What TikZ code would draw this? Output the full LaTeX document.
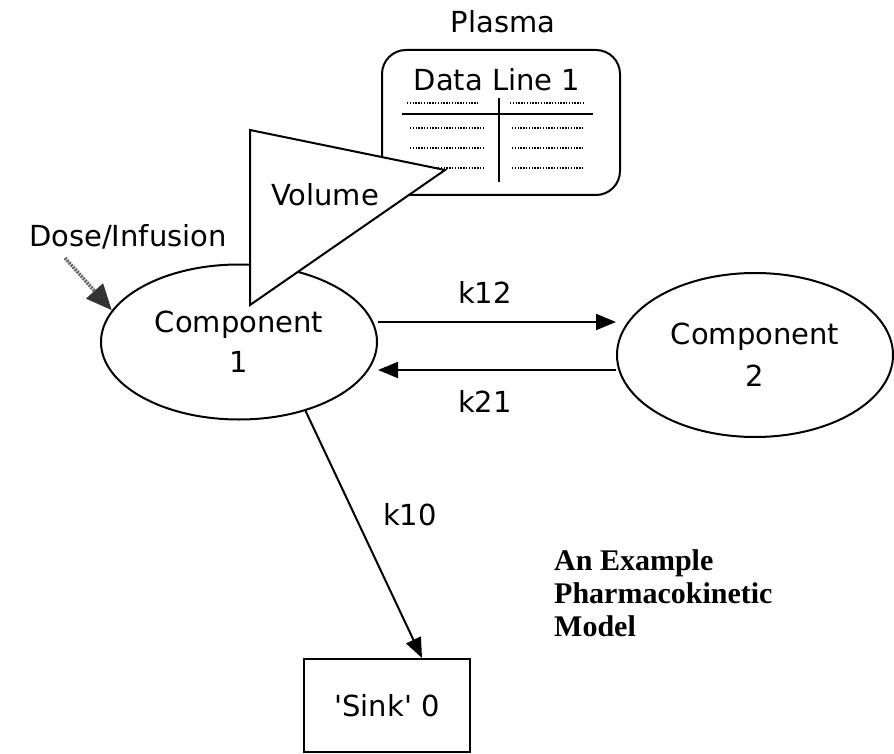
\documentclass[tikz,border=0pt]{standalone}
\usepackage{fontspec}
\setmainfont{DejaVu Sans}
\newfontfamily\gen{DejaVu Sans}
\newfontfamily\titlefont{Liberation Serif}
\usetikzlibrary{shapes.geometric,arrows.meta}
\tikzset{
  lbl/.style={font=\gen\fontsize{29}{40}\selectfont, inner sep=0pt},
  comp/.style={ellipse, draw, line width=2pt, fill=white, align=center, font=\gen\fontsize{29}{42}\selectfont, inner sep=0pt},
  arr/.style={line width=2pt, -{Triangle[length=20pt,width=16pt]}},
  dots/.style={line width=1.4pt, dash pattern=on 1.4pt off 1.4pt},
}
\begin{document}
\begin{tikzpicture}[x=1pt,y=-1pt]
\useasboundingbox (0,0) rectangle (894,754);
% data box
\node[draw, line width=2pt, rounded corners=24pt, minimum width=238pt, minimum height=145pt] (data) at (501,122.5) {};
\node[lbl] (plasma) at (503,22) {Plasma};
\node[lbl] (dl) at (497,80) {Data Line 1};
\draw[line width=2pt] (402,114) -- (593,114);
\draw[line width=2pt] (499,98) -- (499,182);
\foreach \yy in {128,148,168} {
  \draw[dots] (410,\yy) -- (483,\yy);
  \draw[dots] (512,\yy) -- (583,\yy);
}
\draw[dots] (407,103) -- (478,103);
\draw[dots] (510,103) -- (583,103);
% component 1
\node[comp, minimum width=276pt, minimum height=155pt] (c1) at (239,342) {};
% volume triangle
\coordinate (t1) at (250,130);
\coordinate (t2) at (445,170);
\coordinate (t3) at (250,305);
\draw[line width=2pt, fill=white] (t1) -- (t2) -- (t3) -- cycle;
\node[lbl] (vol) at (325,195) {Volume};
\node[lbl, align=center] (c1text) at (c1) {Component\\1};
% component 2
\node[comp, minimum width=276pt, minimum height=164pt] (c2) at (755,355) {Component\\2};
% sink
\node[draw, line width=2pt, minimum width=166pt, minimum height=93pt, inner sep=0pt, font=\gen\fontsize{29}{40}\selectfont] (sink) at (387,705.5) {'Sink' 0};
% connectors
\draw[arr] ([yshift=20pt]c1.east) -- ([yshift=20pt]c1.east -| c2.west);
\draw[arr] ([yshift=-15pt]c2.west) -- ([yshift=-15pt]c2.west -| c1.east);
\draw[arr] (c1.-46) -- ([xshift=35pt]sink.north);
\node[lbl] (k12) at (485,292) {k12};
\node[lbl] (k21) at (485,401) {k21};
\node[lbl] (k10) at (410,515) {k10};
% dose
\node[lbl] (dose) at (128,237) {Dose/Infusion};
\coordinate (dstart) at (65,258);
\draw[line width=3.5pt, black!60, dash pattern=on 2pt off 1pt, -{Triangle[length=26pt,width=22pt,fill=black!80,color=black!80]}] (dstart) -- (c1.166);
% title
\node[font=\titlefont\bfseries\fontsize{30}{33}\selectfont, align=left, anchor=north west, inner sep=0pt] (title) at (554,549) {An Example\\Pharmacokinetic\\Model};
\end{tikzpicture}
\end{document}
